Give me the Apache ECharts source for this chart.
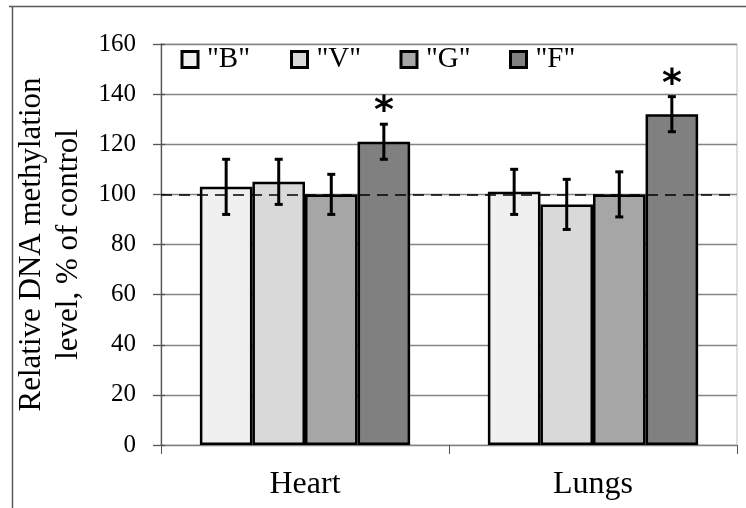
<!DOCTYPE html>
<html>
<head>
<meta charset="utf-8">
<script src="https://cdn.jsdelivr.net/npm/echarts@6/dist/echarts.min.js"></script>
<style>
  html, body { margin: 0; padding: 0; background: #fff; }
  #chart { width: 746px; height: 508px; }
</style>
</head>
<body>
<div id="chart"></div>
<script>
// Tissues and treatment groups
const tissues = ['Heart', 'Lungs'];
const groupNames = ['"B"', '"V"', '"G"', '"F"'];
const groupColors = ['#f0f0f0', '#d9d9d9', '#a6a6a6', '#808080'];

// Mean relative methylation (% of control), one array per group: [Heart, Lungs]
const valuesB = [103, 101];
const valuesV = [105, 96];
const valuesG = [100, 100];
const valuesF = [121, 132];

// Error bar half-widths
const errB = [11, 9];
const errV = [9, 10];
const errG = [8, 9];
const errF = [7, 7];

// Significance markers (true = draw an asterisk)
const sigB = [false, false];
const sigV = [false, false];
const sigG = [false, false];
const sigF = [true, true];

const yTicks = [0, 20, 40, 60, 80, 100, 120, 140, 160];
const controlLevel = 100;

const values = [valuesB, valuesV, valuesG, valuesF];
const errors = [errB, errV, errG, errF];
const sigs = [sigB, sigV, sigG, sigF];

const categoryGap = 0.27;
const serif = '"Liberation Serif", "Times New Roman", serif';

const chart = echarts.init(document.getElementById('chart'));

const barSeries = groupNames.map((name, i) => {
  const s = {
    name: name,
    type: 'bar',
    data: values[i],
    barGap: '0%',
    barCategoryGap: (categoryGap * 100) + '%',
    itemStyle: { color: groupColors[i], borderColor: '#000', borderWidth: 2.5 },
    emphasis: { disabled: true },
    z: 2
  };
  if (i === 0) {
    s.markLine = {
      silent: true,
      symbol: 'none',
      label: { show: false },
      lineStyle: { color: '#000', type: [11, 7], width: 1.5 },
      data: [{ yAxis: controlLevel }],
      z: 5
    };
  }
  return s;
});

// Error bars and asterisks for every group, positioned over its bar
const errorData = [];
groupNames.forEach((name, i) => {
  tissues.forEach((t, c) => {
    errorData.push([c, i, values[i][c], errors[i][c], sigs[i][c] ? 1 : 0]);
  });
});

const errorSeries = {
  type: 'custom',
  name: 'errors',
  data: errorData,
  z: 10,
  silent: true,
  renderItem: function (params, api) {
    const c = api.value(0);
    const g = api.value(1);
    const v = api.value(2);
    const e = api.value(3);
    const sig = api.value(4);
    const band = api.size([1, 0])[0];
    const groupW = band * (1 - categoryGap);
    const barW = groupW / groupNames.length;
    const center = api.coord([c, v]);
    const x = center[0] - groupW / 2 + barW * (g + 0.5);
    const top = api.coord([c, v + e])[1];
    const bot = api.coord([c, v - e])[1];
    const cap = 4;
    const style = { stroke: '#000', lineWidth: 3 };
    const children = [
      { type: 'line', shape: { x1: x, y1: top, x2: x, y2: bot }, style: style },
      { type: 'line', shape: { x1: x - cap, y1: top, x2: x + cap, y2: top }, style: style },
      { type: 'line', shape: { x1: x - cap, y1: bot, x2: x + cap, y2: bot }, style: style }
    ];
    if (sig) {
      children.push({
        type: 'text',
        style: {
          text: '*',
          x: x,
          y: top + 7,
          align: 'center',
          verticalAlign: 'bottom',
          font: 'bold 38px "DejaVu Sans", sans-serif',
          fill: '#000'
        }
      });
    }
    return { type: 'group', children: children };
  }
};

// One legend box per group so the entries sit on an even grid
const legends = groupNames.map((name, i) => ({
  data: [name],
  left: 180.5 + 109.5 * i,
  top: 45,
  padding: 0,
  icon: 'rect',
  itemWidth: 16, itemHeight: 16,
  itemStyle: { borderColor: '#000', borderWidth: 3 },
  textStyle: { fontFamily: serif, fontSize: 29, color: '#000', padding: [0, 0, 0, 4] },
  selectedMode: false
}));

chart.setOption({
  animation: false,
  backgroundColor: '#fff',
  grid: {
    left: 161, right: 9, top: 44, bottom: 63,
    show: true, borderColor: '#c0c0c0', borderWidth: 1
  },
  legend: legends,
  xAxis: {
    type: 'category',
    data: tissues,
    axisLine: { lineStyle: { color: '#808080', width: 1 } },
    axisTick: { show: true, length: 9, alignWithLabel: false, lineStyle: { color: '#555' } },
    axisLabel: { fontFamily: serif, fontSize: 32, color: '#000', margin: 24 },
    splitLine: { show: false }
  },
  yAxis: [{
    type: 'value',
    min: 0, max: 160, interval: 20,
    name: 'Relative DNA methylation\nlevel, % of control',
    nameLocation: 'middle',
    nameRotate: 90,
    nameGap: 58,
    nameTextStyle: { fontFamily: serif, fontSize: 31, color: '#000', lineHeight: 37 },
    axisLine: { show: true, lineStyle: { color: '#555', width: 1.3 } },
    axisTick: { show: true, length: 8, lineStyle: { color: '#555', width: 1.3 } },
    axisLabel: {
      fontFamily: serif, fontSize: 25, color: '#000', margin: 25,
      formatter: v => yTicks.indexOf(v) >= 0 ? String(v) : ''
    },
    splitLine: { show: true, lineStyle: { color: '#858585', width: 1.3 } }
  }, {
    // inner half of the crossing tick marks on the value axis
    type: 'value',
    min: 0, max: 160, interval: 20,
    position: 'left',
    axisLine: { show: false },
    axisTick: { show: true, inside: true, length: 4, lineStyle: { color: '#555', width: 1.3 } },
    axisLabel: { show: false },
    splitLine: { show: false }
  }],
  graphic: [
    { type: 'line', shape: { x1: 9, y1: 6.5, x2: 746, y2: 6.5 }, style: { stroke: '#5a5a5a', lineWidth: 1.5 }, silent: true },
    { type: 'line', shape: { x1: 12.5, y1: 6, x2: 12.5, y2: 508 }, style: { stroke: '#5a5a5a', lineWidth: 1.5 }, silent: true }
  ],
  series: barSeries.concat([errorSeries])
});
</script>
</body>
</html>
